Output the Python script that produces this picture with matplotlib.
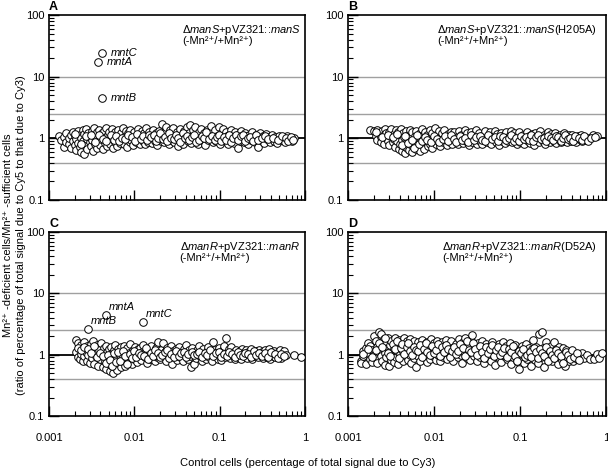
import matplotlib
matplotlib.use('Agg')
import matplotlib.pyplot as plt
from matplotlib.ticker import LogLocator, NullFormatter, FixedLocator

plt.rcParams['font.family'] = ['Liberation Sans', 'DejaVu Sans']
plt.rcParams['mathtext.fontset'] = 'custom'
plt.rcParams['mathtext.rm'] = 'Liberation Sans'
plt.rcParams['mathtext.it'] = 'Liberation Sans:italic'
plt.rcParams['mathtext.bf'] = 'Liberation Sans:bold'

# ---- data ----
a_x = [0.0013, 0.0014, 0.0015, 0.0015, 0.0016, 0.0016, 0.0017, 0.0017, 0.0018, 0.0018,
       0.0019, 0.0019, 0.0020, 0.0020, 0.0021, 0.0021, 0.0022, 0.0022, 0.0023, 0.0023,
       0.0024, 0.0024, 0.0025, 0.0025, 0.0026, 0.0026, 0.0027, 0.0027, 0.0028, 0.0028,
       0.0029, 0.0030, 0.0030, 0.0031, 0.0032, 0.0032, 0.0033, 0.0034, 0.0034, 0.0035,
       0.0036, 0.0037, 0.0037, 0.0038, 0.0039, 0.0040, 0.0040, 0.0041, 0.0042, 0.0043,
       0.0044, 0.0045, 0.0046, 0.0047, 0.0048, 0.0049, 0.0050, 0.0051, 0.0052, 0.0054,
       0.0055, 0.0056, 0.0058, 0.0059, 0.0060, 0.0062, 0.0063, 0.0065, 0.0066, 0.0068,
       0.0070, 0.0072, 0.0073, 0.0075, 0.0077, 0.0079, 0.0081, 0.0083, 0.0085, 0.0088,
       0.0090, 0.0092, 0.0095, 0.0097, 0.0100, 0.0103, 0.0106, 0.0109, 0.0112, 0.0115,
       0.0118, 0.0122, 0.0125, 0.0129, 0.0133, 0.0137, 0.0141, 0.0145, 0.0150, 0.0155,
       0.016, 0.0165, 0.017, 0.0175, 0.018, 0.0186, 0.0192, 0.0198, 0.0204, 0.021,
       0.0217, 0.0224, 0.0231, 0.0238, 0.0245, 0.0253, 0.026, 0.0268, 0.0276, 0.0285,
       0.0294, 0.0303, 0.0312, 0.0322, 0.0332, 0.0342, 0.0353, 0.0364, 0.0375, 0.0387,
       0.040, 0.041, 0.042, 0.044, 0.045, 0.046, 0.048, 0.049, 0.051, 0.052,
       0.054, 0.056, 0.057, 0.059, 0.061, 0.063, 0.065, 0.067, 0.069, 0.071,
       0.073, 0.075, 0.078, 0.080, 0.083, 0.085, 0.088, 0.091, 0.094, 0.097,
       0.10, 0.103, 0.107, 0.11, 0.114, 0.118, 0.121, 0.125, 0.13, 0.134,
       0.138, 0.143, 0.148, 0.153, 0.158, 0.163, 0.168, 0.174, 0.18, 0.186,
       0.192, 0.2, 0.207, 0.215, 0.223, 0.232, 0.24, 0.25, 0.26, 0.27,
       0.28, 0.29, 0.30, 0.31, 0.32, 0.33, 0.35, 0.36, 0.38, 0.39,
       0.41, 0.43, 0.45, 0.47, 0.49, 0.52, 0.55, 0.58, 0.62, 0.66,
       0.70, 0.74,
       0.0020, 0.0024, 0.0027, 0.0031, 0.0035, 0.0039, 0.0043, 0.0047, 0.0053, 0.0057,
       0.0061, 0.0067, 0.0071, 0.0078, 0.0084, 0.0093, 0.0101, 0.0108, 0.0119, 0.0127,
       0.0139, 0.0147, 0.0158, 0.0168, 0.0178, 0.0189, 0.0201, 0.0214, 0.0228, 0.0242,
       0.0257, 0.0272, 0.0289, 0.0307, 0.0327, 0.0347, 0.0369, 0.0392, 0.0415, 0.0438,
       0.047, 0.050, 0.053, 0.058, 0.062, 0.066, 0.070, 0.076, 0.082, 0.087,
       0.093, 0.099, 0.105, 0.112, 0.12, 0.128, 0.136, 0.145, 0.155, 0.165,
       0.176, 0.188, 0.2, 0.213, 0.228, 0.245, 0.263, 0.285, 0.31, 0.34,
       0.37, 0.42, 0.48, 0.54, 0.60, 0.64, 0.68, 0.72]
a_y = [1.10, 0.95, 0.72, 1.05, 0.88, 1.20, 0.80, 1.00, 1.15, 0.70,
       0.92, 1.25, 0.78, 1.08, 0.65, 0.98, 1.30, 0.85, 1.12, 0.72,
       0.60, 1.02, 1.35, 0.90, 0.56, 1.18, 0.80, 1.40, 0.98, 0.68,
       1.22, 0.88, 1.05, 0.75, 1.30, 0.95, 0.62, 1.12, 1.45, 0.82,
       1.00, 0.70, 1.25, 0.90, 1.38, 0.78, 1.08, 0.96, 1.20, 0.66,
       1.32, 0.85, 1.05, 1.48, 0.74, 1.15, 0.92, 1.28, 0.80, 1.02,
       1.40, 0.70, 1.18, 0.88, 1.25, 0.98, 0.76, 1.35, 1.08, 0.84,
       1.20, 0.94, 1.45, 0.80, 1.10, 1.30, 0.72, 1.00, 1.22, 0.86,
       1.38, 0.95, 1.12, 0.78, 1.28, 1.02, 0.88, 1.42, 1.15, 0.82,
       1.05, 1.32, 0.92, 1.20, 0.80, 1.48, 1.00, 0.88, 1.25, 1.10,
       0.84, 1.38, 1.02, 0.92, 1.20, 0.78, 1.30, 1.08, 0.90, 1.72,
       1.15, 0.86, 1.25, 1.55, 1.00, 0.80, 1.35, 0.94, 1.12, 1.45,
       0.88, 1.05, 1.28, 0.76, 1.18, 1.40, 0.95, 1.08, 0.82, 1.30,
       1.00, 1.50, 0.90, 1.20, 1.62, 0.84, 1.10, 1.35, 0.96, 1.55,
       1.15, 0.80, 1.28, 1.02, 1.42, 0.90, 1.20, 0.78, 1.08, 1.35,
       0.95, 1.25, 1.05, 1.60, 0.86, 1.15, 1.38, 0.92, 1.10, 1.50,
       0.82, 1.20, 1.02, 1.40, 0.90, 1.28, 1.08, 0.80, 1.15, 1.35,
       0.96, 1.12, 0.85, 1.25, 1.05, 0.70, 1.18, 0.92, 1.30, 1.00,
       0.88, 1.20, 1.08, 0.82, 1.15, 0.95, 1.28, 1.02, 0.86, 1.12,
       0.72, 1.00, 1.20, 0.90, 1.10, 0.84, 1.18, 0.96, 1.05, 0.88,
       1.15, 0.92, 1.05, 0.85, 1.10, 0.95, 1.02, 0.88, 1.08, 0.96,
       0.90, 1.00,
       1.18, 0.82, 1.10, 1.15, 0.88, 1.12, 0.98, 0.90, 1.15, 0.95,
       1.10, 0.92, 1.02, 0.96, 1.12, 1.05, 0.90, 1.18, 0.98, 1.10,
       0.94, 1.15, 1.05, 1.12, 0.90, 1.02, 1.22, 0.96, 1.05, 0.90,
       1.20, 1.02, 0.98, 1.15, 1.00, 0.88, 1.20, 1.00, 1.10, 0.94,
       1.05, 1.12, 0.88, 0.95, 1.10, 1.02, 1.25, 0.98, 1.10, 0.95,
       1.05, 1.15, 0.92, 1.05, 0.95, 1.12, 0.88, 1.02, 1.15, 0.95,
       1.08, 1.15, 0.92, 1.00, 1.05, 0.90, 1.15, 0.95, 1.02, 1.10,
       0.98, 1.02, 0.95, 1.08, 1.00, 0.90, 1.05, 0.95]

b_x = [0.0018, 0.0020, 0.0021, 0.0022, 0.0022, 0.0023, 0.0024, 0.0024, 0.0025, 0.0026,
       0.0026, 0.0027, 0.0028, 0.0028, 0.0029, 0.0030, 0.0030, 0.0031, 0.0032, 0.0033,
       0.0034, 0.0034, 0.0035, 0.0036, 0.0036, 0.0037, 0.0038, 0.0039, 0.0040, 0.0040,
       0.0041, 0.0042, 0.0043, 0.0044, 0.0045, 0.0045, 0.0046, 0.0047, 0.0048, 0.0049,
       0.0050, 0.0051, 0.0052, 0.0053, 0.0054, 0.0055, 0.0056, 0.0057, 0.0058, 0.0060,
       0.0061, 0.0062, 0.0064, 0.0065, 0.0066, 0.0068, 0.0069, 0.0071, 0.0072, 0.0074,
       0.0075, 0.0077, 0.0079, 0.0081, 0.0083, 0.0085, 0.0087, 0.0089, 0.0091, 0.0094,
       0.0096, 0.0099, 0.0102, 0.0105, 0.0108, 0.0111, 0.0114, 0.0117, 0.0120, 0.0124,
       0.0128, 0.0132, 0.0136, 0.014, 0.0144, 0.0148, 0.0153, 0.0158, 0.0163, 0.0168,
       0.0173, 0.0178, 0.0184, 0.019, 0.0196, 0.0202, 0.0208, 0.0215, 0.0222, 0.0229,
       0.0236, 0.0244, 0.0252, 0.026, 0.0268, 0.0277, 0.0286, 0.0295, 0.0305, 0.0315,
       0.0325, 0.0336, 0.0347, 0.0358, 0.037, 0.0382, 0.0395, 0.0408, 0.0421, 0.0435,
       0.045, 0.0465, 0.048, 0.0496, 0.0512, 0.053, 0.0547, 0.0565, 0.0584, 0.0603,
       0.0623, 0.0644, 0.0665, 0.0687, 0.071, 0.0733, 0.0757, 0.0782, 0.0808, 0.0835,
       0.0862, 0.089, 0.092, 0.095, 0.098, 0.101, 0.105, 0.108, 0.112, 0.116,
       0.12, 0.124, 0.128, 0.132, 0.137, 0.141, 0.146, 0.151, 0.156, 0.161,
       0.166, 0.172, 0.178, 0.184, 0.19, 0.196, 0.203, 0.21, 0.217, 0.224,
       0.231, 0.239, 0.247, 0.255, 0.264, 0.273, 0.282, 0.291, 0.301, 0.311,
       0.322, 0.333, 0.344, 0.355, 0.367, 0.38, 0.393, 0.406, 0.42, 0.435,
       0.45, 0.47, 0.49, 0.51, 0.53, 0.56, 0.59, 0.64, 0.70, 0.78,
       0.0021, 0.0025, 0.0029, 0.0033, 0.0037, 0.0042, 0.0046, 0.0050, 0.0055, 0.0059,
       0.0063, 0.0067, 0.0073, 0.0078, 0.0084, 0.0092, 0.0100, 0.0107, 0.0115, 0.0126,
       0.0134, 0.0146, 0.0156, 0.0170, 0.0181, 0.0199, 0.0212, 0.0232, 0.0248, 0.0272,
       0.029, 0.031, 0.034, 0.036, 0.039, 0.043, 0.047, 0.051, 0.055, 0.059,
       0.063, 0.068, 0.074, 0.079, 0.085, 0.091, 0.097, 0.103, 0.110, 0.118,
       0.126, 0.135, 0.143, 0.153, 0.163, 0.175, 0.188, 0.200, 0.214, 0.228,
       0.243, 0.260, 0.278, 0.296, 0.316, 0.338, 0.36, 0.385, 0.41, 0.44,
       0.48, 0.52, 0.55, 0.62, 0.67, 0.74]
b_y = [1.35, 1.30, 1.10, 1.38, 0.95, 1.22, 1.05, 0.88, 1.32, 1.15,
       0.82, 1.40, 1.00, 1.20, 0.92, 1.28, 0.78, 1.10, 1.42, 0.86,
       1.18, 0.98, 0.72, 1.35, 1.05, 0.90, 1.25, 0.68, 1.12, 0.82,
       1.40, 0.95, 0.62, 1.20, 0.76, 1.05, 0.58, 1.30, 0.88, 0.70,
       1.15, 0.64, 1.38, 0.82, 1.00, 0.60, 1.25, 0.74, 0.92, 1.10,
       0.66, 1.32, 0.85, 1.02, 0.72, 1.20, 0.62, 0.95, 1.40, 0.78,
       1.08, 0.68, 1.28, 0.88, 1.15, 0.74, 1.00, 1.35, 0.82, 1.22,
       0.70, 0.96, 1.45, 0.80, 1.12, 0.92, 1.30, 0.76, 1.05, 1.20,
       0.86, 1.35, 0.98, 0.78, 1.18, 1.02, 0.88, 1.28, 0.82, 1.10,
       1.25, 0.92, 1.05, 0.80, 1.32, 0.96, 1.15, 0.85, 1.08, 1.38,
       0.90, 1.20, 0.78, 1.02, 1.28, 0.88, 1.12, 0.96, 1.35, 0.82,
       1.05, 1.22, 0.92, 0.80, 1.15, 1.00, 1.30, 0.86, 1.08, 0.95,
       1.25, 0.82, 1.10, 0.98, 1.32, 0.88, 1.18, 0.78, 1.05, 1.22,
       0.92, 1.12, 0.84, 1.28, 1.00, 0.90, 1.15, 1.30, 0.86, 1.05,
       1.20, 0.95, 0.80, 1.10, 1.25, 0.88, 1.02, 1.15, 0.82, 0.98,
       1.28, 0.90, 1.08, 0.85, 1.18, 1.00, 0.78, 1.22, 0.94, 1.10,
       0.86, 1.30, 1.02, 0.92, 1.15, 0.82, 1.08, 1.25, 0.96, 0.88,
       1.18, 1.02, 0.90, 1.22, 0.85, 1.10, 0.98, 1.15, 0.88, 1.05,
       1.20, 0.92, 1.08, 0.86, 1.15, 1.00, 0.90, 1.12, 0.95, 1.05,
       0.88, 1.10, 0.98, 1.15, 0.92, 1.05, 0.95, 1.00, 1.12, 1.10,
       1.25, 1.05, 1.15, 1.05, 1.18, 0.78, 1.10, 0.85, 0.95, 0.70,
       1.12, 0.82, 0.92, 1.05, 0.95, 0.86, 1.10, 0.98, 0.88, 0.96,
       1.08, 0.90, 1.15, 0.98, 0.86, 1.10, 0.95, 1.02, 0.88, 1.12,
       0.95, 1.05, 1.10, 0.95, 0.90, 1.15, 0.98, 1.05, 0.92, 1.10,
       1.05, 0.95, 1.00, 1.12, 0.92, 1.02, 0.90, 1.10, 0.96, 1.05,
       0.95, 1.12, 0.90, 1.05, 1.15, 0.96, 1.02, 0.92, 1.10, 1.02,
       0.95, 1.08, 1.05, 0.92, 1.00, 1.12, 0.96, 1.02, 0.90, 1.10,
       1.02, 0.95, 1.08, 0.92, 1.00, 1.05]

c_x = [0.0021, 0.0021, 0.0022, 0.0022, 0.0023, 0.0023, 0.0024, 0.0024, 0.0025, 0.0025,
       0.0026, 0.0026, 0.0027, 0.0028, 0.0028, 0.0029, 0.0030, 0.0030, 0.0031, 0.0032,
       0.0033, 0.0033, 0.0034, 0.0035, 0.0036, 0.0036, 0.0037, 0.0038, 0.0039, 0.0040,
       0.0041, 0.0042, 0.0043, 0.0044, 0.0045, 0.0046, 0.0047, 0.0048, 0.0049, 0.0050,
       0.0051, 0.0052, 0.0053, 0.0054, 0.0055, 0.0056, 0.0057, 0.0058, 0.0059, 0.0060,
       0.0062, 0.0063, 0.0064, 0.0066, 0.0067, 0.0069, 0.0070, 0.0072, 0.0074, 0.0075,
       0.0077, 0.0079, 0.0081, 0.0083, 0.0085, 0.0087, 0.0089, 0.0091, 0.0094, 0.0096,
       0.0099, 0.0102, 0.0105, 0.0108, 0.0111, 0.0114, 0.0117, 0.0120, 0.0124, 0.0128,
       0.0132, 0.0136, 0.014, 0.0144, 0.0148, 0.0153, 0.0158, 0.0163, 0.0168, 0.0173,
       0.0178, 0.0184, 0.019, 0.0196, 0.0202, 0.0208, 0.0215, 0.0222, 0.0229, 0.0236,
       0.0244, 0.0252, 0.026, 0.0268, 0.0277, 0.0286, 0.0295, 0.0305, 0.0315, 0.0325,
       0.0336, 0.0347, 0.0358, 0.037, 0.0382, 0.0395, 0.0408, 0.0421, 0.0435, 0.045,
       0.0465, 0.048, 0.0496, 0.0512, 0.053, 0.0547, 0.0565, 0.0584, 0.0603, 0.0623,
       0.0644, 0.0665, 0.0687, 0.071, 0.0733, 0.0757, 0.0782, 0.0808, 0.0835, 0.0862,
       0.089, 0.092, 0.095, 0.098, 0.101, 0.105, 0.108, 0.112, 0.116, 0.12,
       0.124, 0.128, 0.132, 0.137, 0.141, 0.146, 0.151, 0.156, 0.161, 0.166,
       0.172, 0.178, 0.184, 0.19, 0.196, 0.203, 0.21, 0.217, 0.224, 0.231,
       0.239, 0.247, 0.255, 0.264, 0.273, 0.282, 0.291, 0.301, 0.311, 0.322,
       0.333, 0.344, 0.355, 0.367, 0.38, 0.393, 0.406, 0.42, 0.435, 0.45,
       0.47, 0.49, 0.51, 0.53, 0.55, 0.57, 0.60, 0.75, 0.90,
       0.0022, 0.0024, 0.0026, 0.0029, 0.0031, 0.0034, 0.0037, 0.0040, 0.0043, 0.0046,
       0.0049, 0.0052, 0.0055, 0.0058, 0.0061, 0.0065, 0.0068, 0.0073, 0.0078, 0.0082,
       0.0088, 0.0093, 0.0100, 0.0106, 0.0113, 0.0121, 0.0130, 0.0138, 0.0146, 0.0156,
       0.0166, 0.0176, 0.0187, 0.0199, 0.0212, 0.0226, 0.0240, 0.0256, 0.0272, 0.029,
       0.031, 0.033, 0.035, 0.038, 0.040, 0.043, 0.047, 0.050, 0.054, 0.058,
       0.062, 0.067, 0.072, 0.077, 0.083, 0.090, 0.097, 0.104, 0.112, 0.121,
       0.13, 0.14, 0.152, 0.163, 0.175, 0.188, 0.2, 0.215, 0.232, 0.25,
       0.27, 0.29, 0.31, 0.34, 0.37, 0.40, 0.44, 0.48, 0.52, 0.56]
c_y = [1.10, 1.75, 0.92, 1.55, 1.30, 0.85, 1.02, 1.45, 1.20, 0.80,
       1.62, 0.95, 1.12, 0.78, 1.38, 1.00, 1.25, 0.72, 1.50, 0.88,
       1.15, 1.68, 0.70, 1.30, 0.96, 1.05, 1.45, 0.66, 1.20, 0.85,
       1.55, 1.00, 0.62, 1.28, 0.80, 1.40, 0.58, 1.10, 0.74, 1.22,
       0.92, 0.55, 1.35, 0.68, 1.05, 0.50, 1.18, 0.78, 0.62, 1.45,
       0.88, 0.56, 1.25, 0.72, 1.02, 0.64, 1.32, 0.80, 0.96, 1.40,
       0.66, 1.12, 0.86, 1.28, 0.74, 1.05, 1.48, 0.92, 0.70, 1.18,
       0.84, 1.35, 1.00, 0.76, 1.22, 0.95, 1.30, 0.82, 1.10, 1.42,
       0.90, 1.15, 0.72, 1.25, 1.02, 0.86, 1.38, 0.98, 1.12, 0.80,
       1.30, 0.92, 1.60, 1.05, 0.84, 1.20, 1.55, 0.95, 1.10, 0.78,
       1.28, 1.00, 0.88, 1.40, 0.70, 1.15, 0.96, 1.25, 0.82, 1.08,
       1.35, 0.90, 1.12, 0.80, 1.22, 1.00, 1.45, 0.86, 1.18, 0.95,
       0.62, 1.30, 0.70, 1.05, 0.88, 1.20, 1.40, 0.94, 1.10, 0.80,
       1.25, 1.02, 0.84, 1.15, 1.35, 0.92, 1.08, 0.78, 1.60, 1.20,
       0.96, 1.12, 0.86, 1.28, 1.00, 0.82, 1.18, 1.40, 0.92, 1.85,
       1.05, 1.22, 0.88, 1.32, 0.98, 1.10, 0.84, 1.20, 1.02, 0.92,
       1.15, 0.86, 1.25, 1.05, 0.95, 1.18, 0.88, 1.10, 1.00, 1.22,
       0.84, 1.08, 0.96, 1.15, 1.02, 0.90, 1.20, 0.98, 1.10, 0.88,
       1.05, 1.18, 0.92, 1.00, 1.22, 0.86, 1.10, 0.96, 1.15, 0.90,
       1.08, 0.95, 1.18, 0.88, 1.02, 1.15, 0.98, 0.97, 0.92,
       1.30, 1.18, 1.35, 1.22, 1.05, 1.40, 0.90, 1.05, 0.95, 0.72,
       1.00, 0.82, 0.65, 1.05, 0.75, 1.12, 0.80, 1.15, 0.95, 0.70,
       1.02, 0.88, 1.15, 0.92, 1.05, 1.00, 0.95, 1.30, 0.84, 1.08,
       0.95, 1.18, 1.05, 0.90, 1.00, 1.10, 1.20, 0.88, 1.02, 0.92,
       1.15, 0.95, 1.05, 1.10, 0.92, 1.02, 1.12, 0.98, 1.02, 1.10,
       0.92, 1.08, 0.98, 1.20, 0.95, 1.05, 1.10, 0.92, 1.02, 0.96,
       1.10, 1.02, 0.92, 1.12, 1.00, 0.95, 1.08, 1.02, 0.90, 1.15,
       1.00, 1.08, 0.95, 1.05, 0.92, 1.12, 1.02, 0.88, 1.02, 0.96]

d_x = [0.0014, 0.0014, 0.0015, 0.0015, 0.0016, 0.0016, 0.0017, 0.0017, 0.0018, 0.0018,
       0.0019, 0.0019, 0.0020, 0.0020, 0.0021, 0.0021, 0.0022, 0.0022, 0.0023, 0.0023,
       0.0024, 0.0024, 0.0025, 0.0025, 0.0026, 0.0026, 0.0027, 0.0027, 0.0028, 0.0028,
       0.0029, 0.0029, 0.0030, 0.0030, 0.0031, 0.0032, 0.0032, 0.0033, 0.0034, 0.0034,
       0.0035, 0.0036, 0.0036, 0.0037, 0.0038, 0.0038, 0.0039, 0.0040, 0.0041, 0.0042,
       0.0043, 0.0044, 0.0045, 0.0046, 0.0047, 0.0048, 0.0049, 0.0050, 0.0051, 0.0052,
       0.0053, 0.0054, 0.0055, 0.0056, 0.0058, 0.0059, 0.0060, 0.0062, 0.0063, 0.0065,
       0.0066, 0.0068, 0.0069, 0.0071, 0.0072, 0.0074, 0.0076, 0.0078, 0.0080, 0.0082,
       0.0084, 0.0086, 0.0088, 0.0090, 0.0093, 0.0095, 0.0098, 0.0100, 0.0103, 0.0106,
       0.0109, 0.0112, 0.0115, 0.0118, 0.0121, 0.0124, 0.0128, 0.0131, 0.0135, 0.0139,
       0.0143, 0.0147, 0.0151, 0.0155, 0.0159, 0.0164, 0.0168, 0.0173, 0.0178, 0.0183,
       0.0188, 0.0193, 0.0199, 0.0204, 0.021, 0.0216, 0.0222, 0.0228, 0.0234, 0.0241,
       0.0248, 0.0255, 0.0262, 0.0269, 0.0276, 0.0284, 0.0292, 0.03, 0.0308, 0.0317,
       0.0326, 0.0335, 0.0344, 0.0354, 0.0364, 0.0374, 0.0385, 0.0395, 0.0406, 0.0418,
       0.043, 0.0442, 0.0454, 0.0467, 0.048, 0.0494, 0.0508, 0.0522, 0.0537, 0.0552,
       0.0567, 0.0583, 0.06, 0.0617, 0.0634, 0.0652, 0.067, 0.0689, 0.0709, 0.0729,
       0.075, 0.0771, 0.0793, 0.0815, 0.0838, 0.0862, 0.0886, 0.0911, 0.0937, 0.0963,
       0.099, 0.102, 0.105, 0.108, 0.111, 0.114, 0.117, 0.12, 0.124, 0.127,
       0.131, 0.134, 0.138, 0.142, 0.146, 0.15, 0.154, 0.159, 0.163, 0.168,
       0.172, 0.177, 0.182, 0.187, 0.192, 0.198, 0.203, 0.209, 0.215, 0.221,
       0.227, 0.233, 0.24, 0.247, 0.254, 0.261, 0.268, 0.276, 0.283, 0.291,
       0.299, 0.308, 0.316, 0.325, 0.334, 0.344, 0.353, 0.363, 0.373, 0.384,
       0.395, 0.406, 0.417, 0.429, 0.441, 0.453, 0.466, 0.48, 0.5, 0.52,
       0.55, 0.6, 0.66, 0.72, 0.78, 0.84, 0.90,
       0.0015, 0.0017, 0.0019, 0.0021, 0.0023, 0.0025, 0.0027, 0.0029, 0.0031, 0.0033,
       0.0035, 0.0037, 0.0039, 0.0041, 0.0043, 0.0045, 0.0048, 0.0050, 0.0053, 0.0056,
       0.0059, 0.0062, 0.0065, 0.0068, 0.0072, 0.0076, 0.0080, 0.0084, 0.0089, 0.0094,
       0.0099, 0.0105, 0.0111, 0.0117, 0.0124, 0.0131, 0.0138, 0.0146, 0.0154, 0.0163,
       0.0172, 0.0182, 0.0192, 0.0203, 0.0215, 0.0227, 0.024, 0.0253, 0.0268, 0.0283,
       0.030, 0.032, 0.034, 0.036, 0.038, 0.040, 0.042, 0.045, 0.047, 0.050,
       0.053, 0.056, 0.059, 0.062, 0.066, 0.070, 0.074, 0.078, 0.082, 0.087,
       0.092, 0.097, 0.103, 0.109, 0.115, 0.122, 0.129, 0.136, 0.144, 0.152,
       0.161, 0.170, 0.18, 0.19, 0.2, 0.212, 0.224, 0.237, 0.25, 0.265,
       0.28, 0.30, 0.32, 0.34, 0.36, 0.38, 0.40, 0.43, 0.46, 0.49]
d_y = [0.80, 0.72, 1.15, 0.95, 1.30, 0.70, 1.55, 1.05, 0.85, 1.40,
       1.20, 0.75, 2.05, 1.00, 1.65, 0.88, 1.35, 0.72, 2.30, 1.10,
       2.20, 0.95, 1.50, 0.78, 1.80, 1.22, 0.68, 1.05, 1.60, 0.90,
       1.85, 1.30, 0.66, 1.12, 1.45, 0.82, 1.70, 1.00, 1.25, 0.75,
       1.90, 0.92, 1.55, 1.15, 0.70, 1.38, 1.75, 1.02, 0.85, 1.60,
       1.20, 0.78, 1.85, 1.42, 0.95, 1.10, 1.65, 0.82, 1.30, 1.78,
       1.00, 0.72, 1.50, 1.22, 0.88, 1.70, 1.08, 0.64, 1.40, 0.95,
       1.60, 1.15, 0.80, 1.32, 1.75, 1.00, 0.90, 1.48, 1.20, 0.76,
       1.62, 1.05, 1.35, 0.86, 1.80, 1.12, 0.95, 1.55, 1.25, 0.82,
       1.70, 1.00, 1.40, 0.78, 1.18, 1.60, 0.92, 1.30, 1.08, 1.75,
       0.85, 1.45, 1.15, 0.98, 1.65, 1.28, 0.80, 1.05, 1.50, 1.20,
       0.90, 1.80, 1.35, 1.00, 0.74, 1.58, 1.12, 1.90, 1.25, 0.88,
       1.45, 1.05, 0.82, 1.70, 2.10, 1.20, 0.95, 1.38, 1.08, 0.78,
       1.55, 1.18, 0.92, 1.32, 1.65, 1.02, 0.72, 1.25, 1.48, 0.88,
       1.10, 1.40, 0.80, 1.60, 1.00, 1.22, 0.68, 1.35, 1.05, 0.90,
       1.50, 1.15, 0.75, 1.28, 1.62, 0.95, 1.08, 1.40, 0.84, 1.20,
       1.02, 1.55, 0.70, 1.30, 0.92, 1.15, 1.45, 0.80, 1.05, 0.58,
       1.25, 0.90, 1.38, 1.00, 0.72, 1.18, 1.52, 0.86, 1.10, 1.30,
       0.95, 0.66, 1.22, 1.75, 1.05, 0.82, 1.35, 1.00, 0.74, 2.20,
       1.15, 0.90, 2.30, 1.28, 0.62, 1.05, 1.58, 0.85, 1.20, 0.95,
       1.40, 0.78, 1.10, 1.60, 0.88, 1.25, 1.02, 0.70, 1.35, 0.92,
       1.15, 0.82, 1.30, 1.00, 0.66, 1.20, 0.90, 1.08, 0.78, 1.12,
       0.95, 1.05, 0.80, 1.00, 0.90, 1.02, 0.85, 0.98, 0.92, 1.05,
       0.88, 1.00, 0.84, 0.85, 1.02, 0.88, 1.05,
       1.02, 1.25, 0.92, 1.20, 1.55, 1.35, 1.90, 1.05, 0.95, 1.48,
       1.22, 1.65, 0.88, 1.30, 1.50, 1.02, 1.35, 1.55, 1.15, 1.00,
       1.35, 1.20, 1.15, 1.45, 0.92, 1.25, 1.55, 1.10, 1.00, 1.40,
       1.05, 1.20, 1.50, 0.95, 1.35, 1.12, 1.45, 1.25, 0.90, 1.15,
       1.35, 1.02, 1.15, 1.50, 1.30, 0.95, 1.65, 1.20, 1.10, 1.55,
       1.25, 1.00, 1.40, 1.12, 0.88, 1.35, 1.05, 1.22, 1.45, 0.95,
       1.20, 1.35, 1.00, 1.10, 1.30, 0.92, 1.25, 1.10, 1.38, 0.95,
       0.80, 1.15, 1.05, 1.25, 0.92, 1.00, 1.12, 0.90, 1.30, 1.10,
       0.88, 1.25, 1.05, 0.95, 1.35, 0.78, 1.15, 1.00, 0.88, 1.20,
       1.05, 0.95, 0.72, 1.10, 0.98, 0.85, 1.20, 0.90, 1.05, 0.82]

# labelled genes (x, y)
a_genes = ['mntC', 'mntA', 'mntB']
a_gx = [0.0042, 0.0038, 0.0042]
a_gy = [24.0, 17.0, 4.5]
c_genes = ['mntA', 'mntB', 'mntC']
c_gx = [0.0046, 0.0029, 0.0128]
c_gy = [4.5, 2.65, 3.4]

panel_letters = ['A', 'B', 'C', 'D']
strain_names = [r'$\Delta\mathit{manS}$+pVZ321::$\mathit{manS}$',
                r'$\Delta\mathit{manS}$+pVZ321::$\mathit{manS}$(H205A)',
                r'$\Delta\mathit{manR}$+pVZ321::$\mathit{manR}$',
                r'$\Delta\mathit{manR}$+pVZ321::$\mathit{manR}$(D52A)']
cond_text = '(-Mn²⁺/+Mn²⁺)'
thresholds = [0.4, 2.5, 10]

W, H = 608, 471
fig = plt.figure(figsize=(W / 100, H / 100), dpi=100)


def px_axes(left, top, right, bottom):
    return fig.add_axes([left / W, 1 - bottom / H, (right - left) / W, (bottom - top) / H])


boxes = [(49, 15, 305, 200), (348, 15, 606, 200), (49, 232, 305, 416), (348, 232, 606, 416)]
data = [(a_x, a_y), (b_x, b_y), (c_x, c_y), (d_x, d_y)]
text_x = [0.52, 0.345, 0.51, 0.365]

for i, (box, (xs, ys)) in enumerate(zip(boxes, data)):
    ax = px_axes(*box)
    ax.set_xscale('log')
    ax.set_yscale('log')
    ax.set_xlim(0.001, 1)
    ax.set_ylim(0.1, 100)
    for t in thresholds:
        ax.axhline(t, color='#a0a0a0', lw=1.0, zorder=1)
    ax.axhline(1, color='black', lw=1.3, zorder=2)
    ax.scatter(xs, ys, s=30, facecolor='white', edgecolor='black', lw=0.7, zorder=3)
    if i == 0:
        ax.scatter(a_gx, a_gy, s=30, facecolor='white', edgecolor='black', lw=0.7, zorder=3)
        for g, gx, gy in zip(a_genes, a_gx, a_gy):
            ax.annotate(g, (gx, gy), xytext=(6, 0), textcoords='offset points',
                        fontsize=8, style='italic', va='center')
    if i == 2:
        ax.scatter(c_gx, c_gy, s=30, facecolor='white', edgecolor='black', lw=0.7, zorder=3)
        for g, gx, gy in zip(c_genes, c_gx, c_gy):
            ax.annotate(g, (gx, gy), xytext=(2, 2), textcoords='offset points',
                        fontsize=8, style='italic', va='bottom')
    for sp in ax.spines.values():
        sp.set_linewidth(1.2)
    ax.xaxis.set_major_locator(FixedLocator([0.001, 0.01, 0.1, 1]))
    ax.xaxis.set_minor_locator(LogLocator(base=10, subs=range(2, 10)))
    ax.yaxis.set_major_locator(FixedLocator([0.1, 1, 10, 100]))
    ax.yaxis.set_minor_locator(LogLocator(base=10, subs=range(2, 10)))
    ax.xaxis.set_minor_formatter(NullFormatter())
    ax.yaxis.set_minor_formatter(NullFormatter())
    ax.tick_params(which='major', direction='in', length=7, width=1, labelsize=8,
                   top=False, right=False)
    ax.tick_params(which='minor', direction='in', length=3.5, width=0.8,
                   top=False, right=False)
    ax.tick_params(axis='x', which='major', pad=12)
    ax.set_yticklabels(['0.1', '1', '10', '100'])
    if i < 2:
        ax.set_xticklabels([])
    else:
        ax.set_xticklabels(['0.001', '0.01', '0.1', '1'])
    ax.text(text_x[i], 0.955, strain_names[i], transform=ax.transAxes,
            fontsize=8, ha='left', va='top')
    ax.text(text_x[i], 0.885, cond_text, transform=ax.transAxes,
            fontsize=8, ha='left', va='top')
    fig.text(box[0] / W, 1 - (box[1] - 8) / H, panel_letters[i],
             fontsize=9, fontweight='bold', ha='left', va='center')

fig.text(8 / W, 0.5, 'Mn²⁺ -deficient cells/Mn²⁺ -sufficient cells',
         rotation=90, fontsize=8, ha='center', va='center')
fig.text(21 / W, 0.5, '(ratio of percentage of total signal due to Cy5 to that due to Cy3)',
         rotation=90, fontsize=8, ha='center', va='center')
fig.text(308 / W, 1 - 463 / H, 'Control cells (percentage of total signal due to Cy3)',
         fontsize=8, ha='center', va='center')

fig.savefig('out.png', dpi=100)
